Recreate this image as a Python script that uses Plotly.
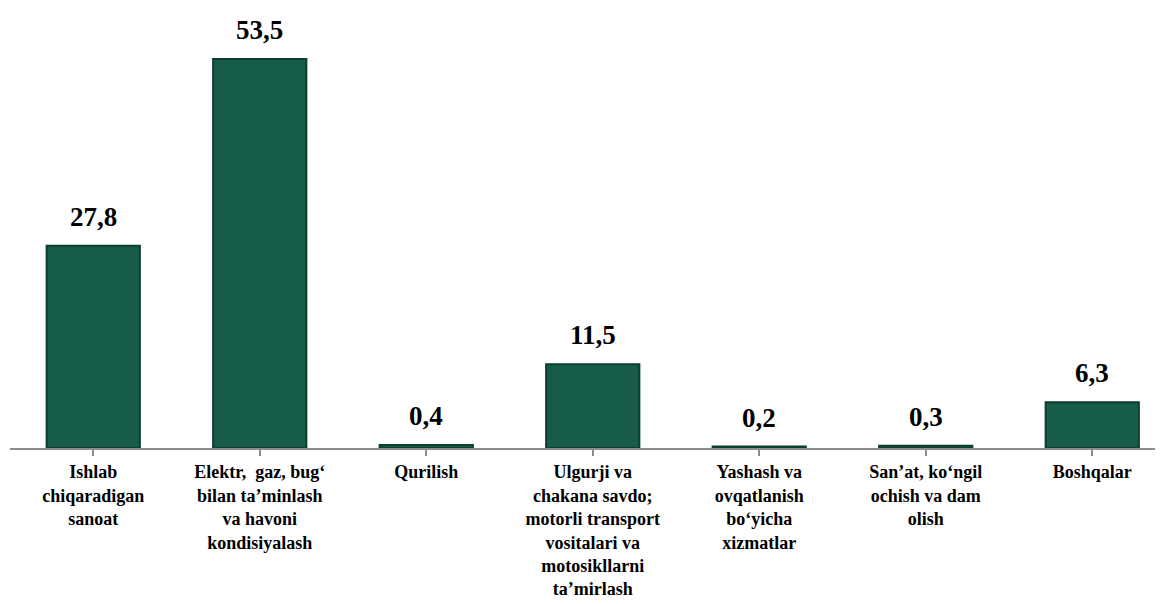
import plotly.graph_objects as go

categories = [
    "Ishlab<br>chiqaradigan<br>sanoat",
    "Elektr,  gaz, bug‘<br>bilan ta’minlash<br>va havoni<br>kondisiyalash",
    "Qurilish",
    "Ulgurji va<br>chakana savdo;<br>motorli transport<br>vositalari va<br>motosikllarni<br>ta’mirlash",
    "Yashash va<br>ovqatlanish<br>bo‘yicha<br>xizmatlar",
    "San’at, ko‘ngil<br>ochish va dam<br>olish",
    "Boshqalar",
]
values = [27.8, 53.5, 0.4, 11.5, 0.2, 0.3, 6.3]
value_labels = ["27,8", "53,5", "0,4", "11,5", "0,2", "0,3", "6,3"]

FONT = "Liberation Serif"
x_idx = list(range(len(categories)))

fig = go.Figure()
fig.add_trace(go.Bar(
    x=x_idx,
    y=values,
    width=0.56,
    marker=dict(color="#175B49", line=dict(color="#0B3E30", width=2)),
    hoverinfo="skip",
))

for xi, v, t in zip(x_idx, values, value_labels):
    fig.add_annotation(
        x=xi, y=v, xref="x", yref="y",
        text=f"<b>{t}</b>", showarrow=False,
        yanchor="bottom", yshift=12,
        font=dict(family=FONT, size=27, color="black"),
    )

fig.update_layout(
    width=1155, height=596,
    margin=dict(l=2, r=0, t=0, b=156, autoexpand=False),
    paper_bgcolor="white",
    plot_bgcolor="white",
    showlegend=False,
    font=dict(family=FONT, color="black"),
)
fig.update_xaxes(
    automargin=False,
    range=[-0.5, 6.425],
    tickmode="array",
    tickvals=x_idx,
    ticktext=[f"<b>{c}</b>" for c in categories],
    tickangle=0,
    tickfont=dict(family=FONT, size=18, color="black"),
    showline=True, linecolor="#8C8C8C", linewidth=1.5,
    ticks="outside", tickson="boundaries", ticklen=6, tickcolor="#8C8C8C", tickwidth=1.5,
    showgrid=False, zeroline=False,
    ticklabelstandoff=1,
)
fig.update_yaxes(automargin=False, range=[0, 60.5], visible=False, showgrid=False, zeroline=False)

fig.write_html("out.html")
